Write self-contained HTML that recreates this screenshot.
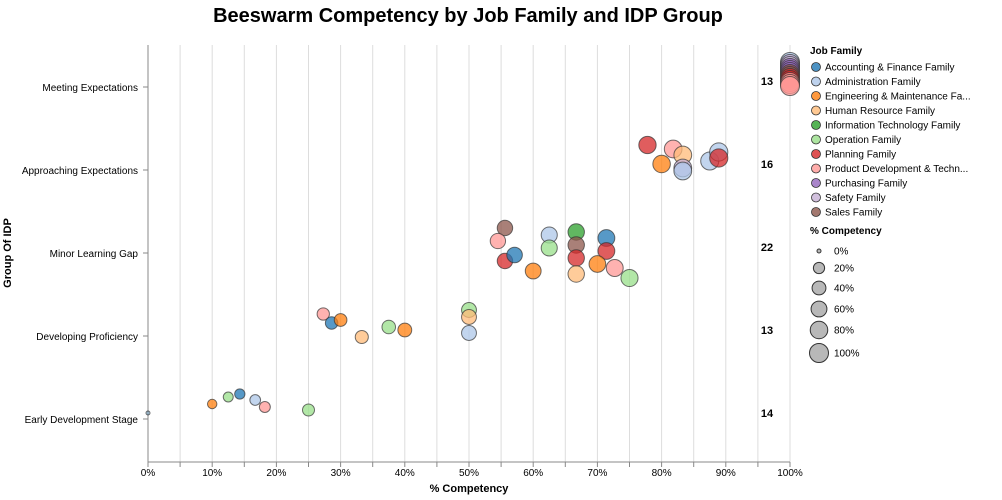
<!DOCTYPE html>
<html><head><meta charset="utf-8"><style>
body{margin:0;background:#fff;font-family:"Liberation Sans",Arial,sans-serif}
svg{display:block}
</style></head><body>
<svg id="chart" width="1002" height="500">
<text x="468" y="22" text-anchor="middle" font-size="20" font-weight="bold" fill="#000">Beeswarm Competency by Job Family and IDP Group</text>
</svg>
<script>
const groups=["Meeting Expectations","Approaching Expectations","Minor Learning Gap","Developing Proficiency","Early Development Stage"];
const groupCounts=[13,16,22,13,14];
const families=["Accounting & Finance Family","Administration Family","Engineering & Maintenance Fa...","Human Resource Family","Information Technology Family","Operation Family","Planning Family","Product Development & Techn...","Purchasing Family","Safety Family","Sales Family"];
const familyColors=["#1f77b4","#aec7e8","#ff7f0e","#ffbb78","#2ca02c","#98df8a","#d62728","#ff9896","#9467bd","#c5b0d5","#8c564b"];
const xTicks=[0,10,20,30,40,50,60,70,80,90,100];
const sizeLegend=[0,20,40,60,80,100];
// point data: group index, family index, competency %, vertical jitter (swarm offset)
const ptGroup=[4,4,4,4,4,4,4, 3,3,3,3,3,3,3,3,3, 2,2,2,2,2,2,2,2,2,2,2,2,2,2,2,2, 1,1,1,1,1,1,1,1,1, 0,0,0,0,0,0,0,0,0,0,0,0,0];
const ptFamily=[0,2,5,0,1,7,5, 7,0,2,5,2,3,5,3,1, 10,7,6,0,2,1,5,4,10,6,3,0,6,2,7,5, 6,2,7,3,9,1,1,1,6, 1,9,9,8,8,8,10,10,6,6,7,7,7];
const ptValue=[0,10,12.5,14.3,16.7,18.2,25, 27.3,28.6,30,37.5,40,33.3,50,50,50, 55.6,54.5,55.6,57.1,60,62.5,62.5,66.7,66.7,66.7,66.7,71.4,71.4,70,72.7,75, 77.8,80,81.8,83.3,83.3,83.3,87.5,88.9,88.9, 100,100,100,100,100,100,100,100,100,100,100,100,100];
const ptJitter=[-6,-15,-22,-25,-19,-12,-9, -22,-13,-16,-9,-6,1,-26,-19,-3, -25,-12,8,2,18,-18,-5,-21,-8,5,21,-15,-2,11,15,25, -25,-6,-21,-15,-2,1,-9,-18,-12, -25,-23,-21,-19,-17,-15,-13,-11,-9,-7,-5,-3,-1];

const NS="http://www.w3.org/2000/svg";
const svg=document.getElementById('chart');
const X0=148,X1=790,Y0=45,Y1=462;
const xs=v=>X0+(X1-X0)*v/100;
const ys=i=>87+i*83;
const rs=v=>v<=0?2:2.5+7*Math.sqrt(v/100);
function mk(tag,attrs,parent){const e=document.createElementNS(NS,tag);for(const k in attrs)e.setAttribute(k,attrs[k]);(parent||svg).appendChild(e);return e;}

const grid=mk('g',{});


for(let p=0;p<=100;p+=5){
  const x=xs(p);
  if(p>0)mk('line',{x1:x,x2:x,y1:Y0,y2:Y1,stroke:'#ddd','stroke-width':1},grid);
  mk('line',{x1:x,x2:x,y1:Y1,y2:Y1+5,stroke:'#888'},grid);
}
const xax=mk('g',{});


mk('line',{x1:X0,x2:X1,y1:Y1,y2:Y1,stroke:'#888'},xax);
xTicks.forEach(t=>{const e=mk('text',{x:xs(t),y:Y1+14,'text-anchor':'middle','font-size':10,fill:'#000'},xax);e.textContent=t+'%';});
const xt=mk('text',{x:469,y:492,'text-anchor':'middle','font-size':11,'font-weight':'bold'});
xt.textContent='% Competency';



const yax=mk('g',{});


mk('line',{x1:X0,x2:X0,y1:Y0,y2:Y1,stroke:'#888'},yax);
groups.forEach((g,i)=>{
  mk('line',{x1:X0-5,x2:X0,y1:ys(i),y2:ys(i),stroke:'#888'},yax);
  const t=mk('text',{x:X0-10,y:ys(i)+4,'text-anchor':'end','font-size':10},yax);t.textContent=g;
  const c=mk('text',{x:767,y:ys(i)-2,'text-anchor':'middle','font-size':11,'font-weight':'bold'});
  c.textContent=groupCounts[i];
  
  
});
const yt=mk('text',{x:0,y:0,'text-anchor':'middle','font-size':11,'font-weight':'bold',transform:'translate(11,253) rotate(-90)'});
yt.textContent='Group Of IDP';



const pts=mk('g',{});


ptValue.forEach((v,i)=>{
  const c=mk('circle',{cx:xs(v),cy:ys(ptGroup[i])+ptJitter[i],r:rs(v),fill:familyColors[ptFamily[i]],'fill-opacity':v<=0?0.3:0.75,stroke:'#333','stroke-opacity':0.7,'stroke-width':1},pts);
  
  
});

const leg=mk('g',{});


const lt=mk('text',{x:810,y:54,'font-size':10,'font-weight':'bold'},leg);lt.textContent='Job Family';
families.forEach((f,i)=>{
  const y=67+i*14.5;
  const g=mk('g',{},leg);
  
  
  mk('circle',{cx:816,cy:y,r:4.5,fill:familyColors[i],'fill-opacity':0.8,stroke:'#333','stroke-width':0.8},g);
  const t=mk('text',{x:825,y:y+3.5,'font-size':10},g);t.textContent=f;
});
const sl=mk('g',{});


const st=mk('text',{x:810,y:234,'font-size':10,'font-weight':'bold'},sl);st.textContent='% Competency';
const sy=[251,268,288,309,330,353];
sizeLegend.forEach((v,i)=>{
  const g=mk('g',{},sl);
  
  
  mk('circle',{cx:819,cy:sy[i],r:rs(v),fill:'#888','fill-opacity':0.6,stroke:'#333','stroke-width':1},g);
  const t=mk('text',{x:834,y:sy[i]+3.5,'font-size':10},g);t.textContent=v+'%';
});
</script>
</body></html>
